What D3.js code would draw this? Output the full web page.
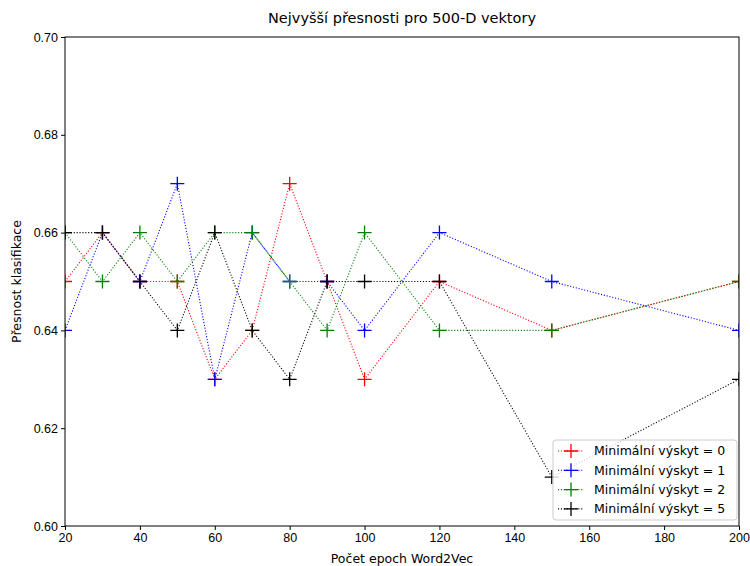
<!DOCTYPE html>
<meta charset="utf-8">
<style>
body { margin: 0; background: #fff; }
svg { font-family: "DejaVu Sans", sans-serif; }
.axis path, .axis line { stroke: #000; stroke-width: 1; }
.axis text { font-size: 12.5px; fill: #000; }
</style>
<body>
<svg width="750" height="566"></svg>
<script src="https://d3js.org/d3.v7.min.js"></script>
<script>
var epochs = [20, 30, 40, 50, 60, 70, 80, 90, 100, 120, 150, 200];
var minCount0 = [0.65, 0.66, 0.65, 0.65, 0.63, 0.64, 0.67, 0.65, 0.63, 0.65, 0.64, 0.65];
var minCount1 = [0.64, 0.66, 0.65, 0.67, 0.63, 0.66, 0.65, 0.65, 0.64, 0.66, 0.65, 0.64];
var minCount2 = [0.66, 0.65, 0.66, 0.65, 0.66, 0.66, 0.65, 0.64, 0.66, 0.64, 0.64, 0.65];
var minCount5 = [0.66, 0.66, 0.65, 0.64, 0.66, 0.64, 0.63, 0.65, 0.65, 0.65, 0.61, 0.63];
var seriesNames = ["Minimální výskyt = 0", "Minimální výskyt = 1", "Minimální výskyt = 2", "Minimální výskyt = 5"];
var seriesColors = ["#ff0000", "#0000ff", "#008000", "#000000"];
var xTicks = [20, 40, 60, 80, 100, 120, 140, 160, 180, 200];
var yTicks = [0.60, 0.62, 0.64, 0.66, 0.68, 0.70];

var series = [minCount0, minCount1, minCount2, minCount5];

var svg = d3.select("svg"),
    margin = {left: 65, right: 11, top: 37, bottom: 40},
    width = 750 - margin.left - margin.right,
    height = 566 - margin.top - margin.bottom;

var x = d3.scaleLinear().domain([20, 200]).range([0, width]);
var y = d3.scaleLinear().domain([0.60, 0.70]).range([height, 0]);

var g = svg.append("g")
    .attr("transform", "translate(" + margin.left + "," + margin.top + ")");

// matplotlib clips lines and markers to the axes box
g.append("defs").append("clipPath").attr("id", "clip")
  .append("rect").attr("width", width).attr("height", height);

var line = d3.line()
    .x(function(d, i) { return x(epochs[i]); })
    .y(function(d) { return y(d); });

var plot = g.append("g").attr("clip-path", "url(#clip)");

series.forEach(function(vals, k) {
  plot.append("path")
      .datum(vals)
      .attr("d", line)
      .attr("fill", "none")
      .attr("stroke", seriesColors[k])
      .attr("stroke-width", 1.1)
      .attr("stroke-dasharray", "1.1,1.8");
  plot.selectAll(".m" + k)
      .data(vals)
    .enter().append("path")
      .attr("transform", function(d, i) { return "translate(" + x(epochs[i]) + "," + y(d) + ")"; })
      .attr("d", "M-7,0H7M0,-7V7")
      .attr("stroke", seriesColors[k])
      .attr("stroke-width", 1.3);
});

// frame
g.append("rect")
    .attr("width", width).attr("height", height)
    .attr("fill", "none").attr("stroke", "#000").attr("stroke-width", 1);

var xAxis = g.append("g").attr("class", "axis")
    .attr("transform", "translate(0," + height + ")")
    .call(d3.axisBottom(x).tickValues(xTicks).tickSize(4).tickPadding(3).tickFormat(d3.format("d")));
xAxis.select(".domain").remove();

var yAxis = g.append("g").attr("class", "axis")
    .call(d3.axisLeft(y).tickValues(yTicks).tickSize(4).tickPadding(3).tickFormat(d3.format(".2f")));
yAxis.select(".domain").remove();

svg.append("text")
    .attr("x", margin.left + width / 2).attr("y", 23)
    .attr("text-anchor", "middle").attr("font-size", "14.5px")
    .text("Nejvyšší přesnosti pro 500-D vektory");

svg.append("text")
    .attr("x", margin.left + width / 2).attr("y", 563)
    .attr("text-anchor", "middle").attr("font-size", "12.5px")
    .text("Počet epoch Word2Vec");

svg.append("text")
    .attr("transform", "translate(21," + (margin.top + height / 2) + ") rotate(-90)")
    .attr("text-anchor", "middle").attr("font-size", "12.5px")
    .text("Přesnost klasifikace");

// legend
var lg = svg.append("g").attr("transform", "translate(553,440)");
lg.append("rect")
    .attr("width", 184).attr("height", 80).attr("rx", 3)
    .attr("fill", "#fff").attr("fill-opacity", 0.8)
    .attr("stroke", "#ccc");
seriesNames.forEach(function(name, k) {
  var row = lg.append("g").attr("transform", "translate(0," + (11 + k * 19.3) + ")");
  row.append("line")
      .attr("x1", 5).attr("x2", 31)
      .attr("stroke", seriesColors[k]).attr("stroke-width", 1.1)
      .attr("stroke-dasharray", "1.1,1.8");
  row.append("path")
      .attr("transform", "translate(18,0)")
      .attr("d", "M-7,0H7M0,-7V7")
      .attr("stroke", seriesColors[k]).attr("stroke-width", 1.3);
  row.append("text")
      .attr("x", 41).attr("dy", "0.35em")
      .attr("font-size", "12.5px")
      .text(name);
});
</script>
</body>
